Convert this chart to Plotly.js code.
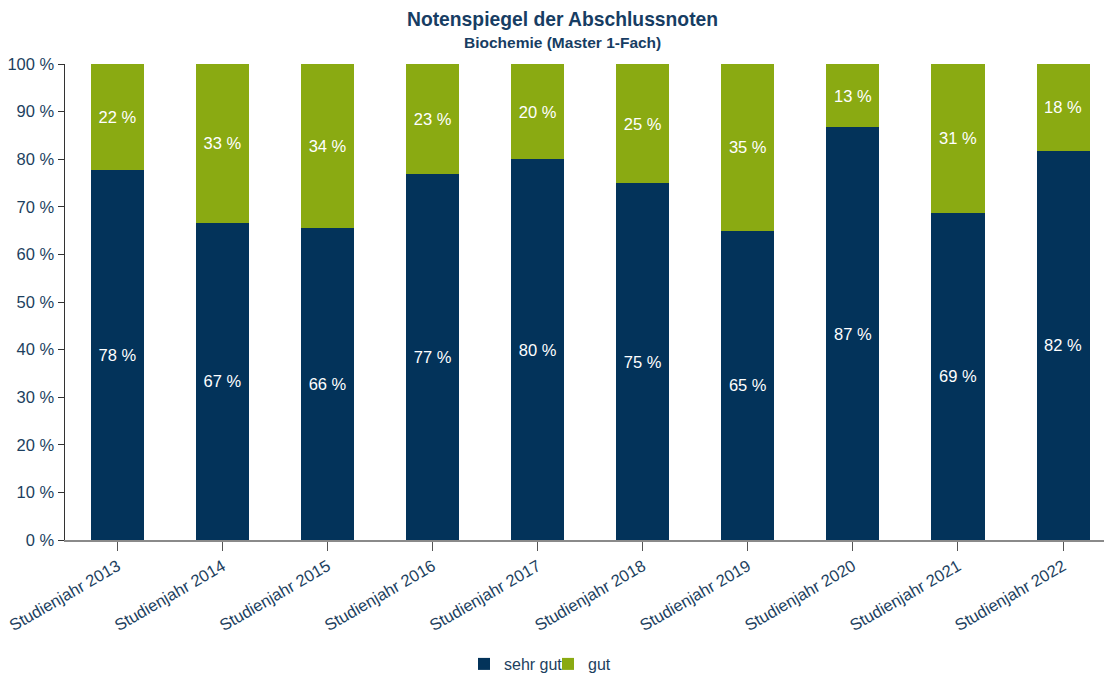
<!DOCTYPE html>
<html>
<head>
<meta charset="utf-8">
<script src="https://cdn.plot.ly/plotly-3.0.1.min.js"></script>
<style>html,body{margin:0;padding:0;background:#fff;}#chart{width:1104px;height:677px;}</style>
</head>
<body>
<div id="chart"></div>
<script>
const categories = ["Studienjahr 2013","Studienjahr 2014","Studienjahr 2015","Studienjahr 2016","Studienjahr 2017","Studienjahr 2018","Studienjahr 2019","Studienjahr 2020","Studienjahr 2021","Studienjahr 2022"];
const sehrGut = [77.8, 66.7, 65.6, 76.9, 80.0, 75.0, 65.0, 86.7, 68.8, 81.8];
const gut = [22.2, 33.3, 34.4, 23.1, 20.0, 25.0, 35.0, 13.3, 31.2, 18.2];
const seriesNames = ["sehr gut", "gut"];
const yTickVals = [0,10,20,30,40,50,60,70,80,90,100];
const yTickText = yTickVals.map(v => v + " %");

const NAVY = "#03335a";
const GREEN = "#8aaa12";
const TXT = "#1d3f60";
const FONT = "Liberation Sans, Arial, sans-serif";

function lbl(arr){ return arr.map(v => Math.round(v) + " %"); }

const traces = [
  {type:"bar", name:seriesNames[0], x:categories, y:sehrGut, marker:{color:NAVY},
   text:lbl(sehrGut), textposition:"inside", insidetextanchor:"middle", textangle:0,
   textfont:{color:"#ffffff", size:16.5, family:FONT}, hoverinfo:"none"},
  {type:"bar", name:seriesNames[1], x:categories, y:gut, marker:{color:GREEN},
   text:lbl(gut), textposition:"inside", insidetextanchor:"middle", textangle:0,
   textfont:{color:"#ffffff", size:16.5, family:FONT}, hoverinfo:"none"}
];

const layout = {
  width:1104, height:677,
  margin:{l:64.5, r:0, t:64, b:137, autoexpand:false},
  barmode:"stack", bargap:0.495,
  paper_bgcolor:"#fff", plot_bgcolor:"#fff",
  font:{family:FONT, color:TXT, size:16},
  showlegend:true,
  legend:{orientation:"h", xref:"container", x:548/1104, xanchor:"center",
          yref:"container", y:(677-664)/677, yanchor:"middle",
          font:{size:16, color:TXT, family:FONT}, itemwidth:30, entrywidth:39, traceorder:"normal"},
  xaxis:{type:"category", range:[-0.5, 9.39], tickangle:-30, showline:true, linecolor:"#8a8a8a",
         linewidth:1.5, ticks:"outside", ticklen:9, tickcolor:"#555", showgrid:false, zeroline:false,
         tickfont:{size:16.5, color:TXT, family:FONT}, fixedrange:true, automargin:false},
  yaxis:{range:[0,100], tickmode:"array", tickvals:yTickVals, ticktext:yTickText, showline:true, linecolor:"#333",
         linewidth:1.5, ticks:"outside", ticklen:6, tickcolor:"#333", showgrid:false, zeroline:false,
         tickfont:{size:16.5, color:TXT, family:FONT}, fixedrange:true, automargin:false},
  annotations:[
    {text:"<b>Notenspiegel der Abschlussnoten</b>", xref:"paper", yref:"paper",
     x:(562-64.5)/1039.5, y:1+(64-20)/476, xanchor:"center", yanchor:"middle", showarrow:false,
     font:{size:19.3, color:"#173d63", family:FONT}},
    {text:"<b>Biochemie (Master 1-Fach)</b>", xref:"paper", yref:"paper",
     x:(562-64.5)/1039.5, y:1+(64-43)/476, xanchor:"center", yanchor:"middle", showarrow:false,
     font:{size:15.5, color:"#173d63", family:FONT}}
  ],
  hovermode:false
};

Plotly.newPlot("chart", traces, layout, {displayModeBar:false, staticPlot:true});
</script>
</body>
</html>
